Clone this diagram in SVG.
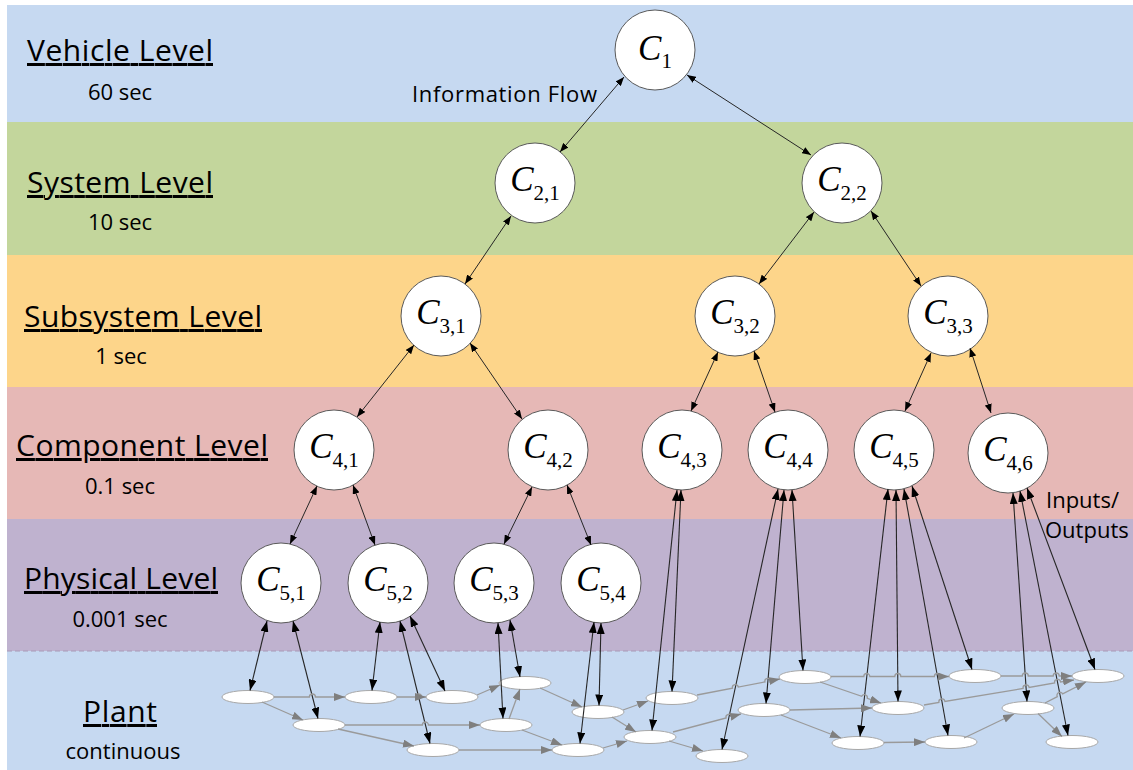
<svg xmlns="http://www.w3.org/2000/svg" width="1133" height="770" viewBox="0 0 1133 770">
<style>
.lv{font-family:"Open Sans","Liberation Sans",sans-serif;font-size:30px;fill:#000;text-decoration:underline}
.tm{font-family:"Open Sans","Liberation Sans",sans-serif;font-size:22px;fill:#000}
.nc{fill:#fff;stroke:#5a5a5a;stroke-width:1}
.lb{font-family:"Liberation Serif","Times New Roman",serif;font-size:35px;fill:#000}
.lb .i{font-style:italic}
.lb .s{font-size:21px}
.pe{fill:#fff;stroke:#a8a8a8;stroke-width:1}
.ctl{fill:none;stroke:#262626;stroke-width:1;marker-start:url(#ms);marker-end:url(#ms)}
.io{fill:none;stroke:#262626;stroke-width:1.1;marker-start:url(#mb);marker-end:url(#mb)}
.fl{fill:none;stroke:#9a9a9a;stroke-width:1.3;marker-end:url(#mg)}
</style>
<defs>
<marker id="ms" viewBox="0 0 9 7" refX="9" refY="3.5" markerWidth="9" markerHeight="7" markerUnits="userSpaceOnUse" orient="auto-start-reverse"><path d="M0,0 L9,3.5 L0,7 z" fill="#000"/></marker>
<marker id="mb" viewBox="0 0 11 8" refX="11" refY="4" markerWidth="11" markerHeight="8" markerUnits="userSpaceOnUse" orient="auto-start-reverse"><path d="M0,0 L11,4 L0,8 z" fill="#000"/></marker>
<marker id="mg" viewBox="0 0 11 8" refX="11" refY="4" markerWidth="11" markerHeight="8" markerUnits="userSpaceOnUse" orient="auto"><path d="M0,0 L11,4 L0,8 z" fill="#7f7f7f"/></marker>
</defs>
<rect x="0" y="0" width="1133" height="770" fill="#fff"/>
<g id="bands">
<rect x="7" y="5" width="1126" height="117" fill="#c6d9f1"/>
<rect x="7" y="122" width="1126" height="133" fill="#c3d69c"/>
<rect x="7" y="255" width="1126" height="132" fill="#fdd58a"/>
<rect x="7" y="387" width="1126" height="132" fill="#e6b8b6"/>
<rect x="7" y="519" width="1126" height="132" fill="#bfb2cf"/>
<rect x="7" y="651" width="1126" height="119" fill="#c6d9f1"/>
<line x1="7" y1="651" x2="1133" y2="651" stroke="#a899b6" stroke-width="1" stroke-dasharray="5,3"/>
</g>
<g id="labels">
<text class="lv" x="27" y="61" textLength="186">Vehicle Level</text>
<text class="tm" x="120" y="100" text-anchor="middle">60 sec</text>
<text class="lv" x="27" y="193" textLength="186">System Level</text>
<text class="tm" x="120" y="230" text-anchor="middle">10 sec</text>
<text class="lv" x="24" y="327" textLength="238">Subsystem Level</text>
<text class="tm" x="121" y="364" text-anchor="middle">1 sec</text>
<text class="lv" x="16" y="456" textLength="252">Component Level</text>
<text class="tm" x="120" y="494" text-anchor="middle">0.1 sec</text>
<text class="lv" x="24" y="589" textLength="194">Physical Level</text>
<text class="tm" x="120" y="627" text-anchor="middle">0.001 sec</text>
<text class="lv" x="83" y="722" textLength="74">Plant</text>
<text class="tm" x="123" y="759" text-anchor="middle">continuous</text>
<text class="tm" x="412" y="102" textLength="185">Information Flow</text>
<text class="tm" x="1046" y="508">Inputs/</text>
<text class="tm" x="1045" y="538">Outputs</text>
</g>
<g id="c1"><circle class="nc" cx="655" cy="50" r="40"/><text class="lb" x="655" y="60" text-anchor="middle"><tspan class="i">C</tspan><tspan class="s" dy="8">1</tspan></text></g>
<g id="c2_1"><circle class="nc" cx="535" cy="183" r="40"/><text class="lb" x="535" y="191" text-anchor="middle"><tspan class="i">C</tspan><tspan class="s" dy="9">2,1</tspan></text></g>
<g id="c2_2"><circle class="nc" cx="842" cy="183" r="40"/><text class="lb" x="842" y="191" text-anchor="middle"><tspan class="i">C</tspan><tspan class="s" dy="9">2,2</tspan></text></g>
<g id="c3_1"><circle class="nc" cx="441" cy="316" r="40"/><text class="lb" x="441" y="324" text-anchor="middle"><tspan class="i">C</tspan><tspan class="s" dy="9">3,1</tspan></text></g>
<g id="c3_2"><circle class="nc" cx="735" cy="316" r="40"/><text class="lb" x="735" y="324" text-anchor="middle"><tspan class="i">C</tspan><tspan class="s" dy="9">3,2</tspan></text></g>
<g id="c3_3"><circle class="nc" cx="948" cy="316" r="40"/><text class="lb" x="948" y="324" text-anchor="middle"><tspan class="i">C</tspan><tspan class="s" dy="9">3,3</tspan></text></g>
<g id="c4_1"><circle class="nc" cx="334" cy="450" r="40"/><text class="lb" x="334" y="458" text-anchor="middle"><tspan class="i">C</tspan><tspan class="s" dy="9">4,1</tspan></text></g>
<g id="c4_2"><circle class="nc" cx="548" cy="450" r="40"/><text class="lb" x="548" y="458" text-anchor="middle"><tspan class="i">C</tspan><tspan class="s" dy="9">4,2</tspan></text></g>
<g id="c4_3"><circle class="nc" cx="682" cy="450" r="40"/><text class="lb" x="682" y="458" text-anchor="middle"><tspan class="i">C</tspan><tspan class="s" dy="9">4,3</tspan></text></g>
<g id="c4_4"><circle class="nc" cx="788" cy="450" r="40"/><text class="lb" x="788" y="458" text-anchor="middle"><tspan class="i">C</tspan><tspan class="s" dy="9">4,4</tspan></text></g>
<g id="c4_5"><circle class="nc" cx="894" cy="450" r="40"/><text class="lb" x="894" y="458" text-anchor="middle"><tspan class="i">C</tspan><tspan class="s" dy="9">4,5</tspan></text></g>
<g id="c4_6"><circle class="nc" cx="1008" cy="453" r="40"/><text class="lb" x="1008" y="461" text-anchor="middle"><tspan class="i">C</tspan><tspan class="s" dy="9">4,6</tspan></text></g>
<g id="c5_1"><circle class="nc" cx="281" cy="583" r="40"/><text class="lb" x="281" y="591" text-anchor="middle"><tspan class="i">C</tspan><tspan class="s" dy="9">5,1</tspan></text></g>
<g id="c5_2"><circle class="nc" cx="388" cy="583" r="40"/><text class="lb" x="388" y="591" text-anchor="middle"><tspan class="i">C</tspan><tspan class="s" dy="9">5,2</tspan></text></g>
<g id="c5_3"><circle class="nc" cx="494" cy="583" r="40"/><text class="lb" x="494" y="591" text-anchor="middle"><tspan class="i">C</tspan><tspan class="s" dy="9">5,3</tspan></text></g>
<g id="c5_4"><circle class="nc" cx="601" cy="583" r="40"/><text class="lb" x="601" y="591" text-anchor="middle"><tspan class="i">C</tspan><tspan class="s" dy="9">5,4</tspan></text></g>
<g id="plant">
<g id="e1"><ellipse class="pe" cx="248" cy="697" rx="26" ry="6.5"/></g>
<g id="e2"><ellipse class="pe" cx="319" cy="725" rx="26" ry="6.5"/></g>
<g id="e3"><ellipse class="pe" cx="371" cy="697" rx="26" ry="6.5"/></g>
<g id="e4"><ellipse class="pe" cx="452" cy="697" rx="26" ry="6.5"/></g>
<g id="e5"><ellipse class="pe" cx="433" cy="750" rx="26" ry="6.5"/></g>
<g id="e6"><ellipse class="pe" cx="525" cy="683" rx="26" ry="6.5"/></g>
<g id="e7"><ellipse class="pe" cx="506" cy="725" rx="26" ry="6.5"/></g>
<g id="e8"><ellipse class="pe" cx="598" cy="712" rx="26" ry="6.5"/></g>
<g id="e9"><ellipse class="pe" cx="578" cy="750" rx="26" ry="6.5"/></g>
<g id="e10"><ellipse class="pe" cx="650" cy="737" rx="26" ry="6.5"/></g>
<g id="e11"><ellipse class="pe" cx="672" cy="698" rx="26" ry="6.5"/></g>
<g id="e12"><ellipse class="pe" cx="722" cy="756" rx="26" ry="6.5"/></g>
<g id="e13"><ellipse class="pe" cx="764" cy="710" rx="26" ry="6.5"/></g>
<g id="e14"><ellipse class="pe" cx="805" cy="677" rx="26" ry="6.5"/></g>
<g id="e15"><ellipse class="pe" cx="858" cy="743" rx="26" ry="6.5"/></g>
<g id="e16"><ellipse class="pe" cx="898" cy="708" rx="26" ry="6.5"/></g>
<g id="e17"><ellipse class="pe" cx="975" cy="676" rx="26" ry="6.5"/></g>
<g id="e18"><ellipse class="pe" cx="951" cy="742" rx="26" ry="6.5"/></g>
<g id="e19"><ellipse class="pe" cx="1028" cy="708" rx="26" ry="6.5"/></g>
<g id="e20"><ellipse class="pe" cx="1098" cy="676" rx="26" ry="6.5"/></g>
<g id="e21"><ellipse class="pe" cx="1072" cy="742" rx="26" ry="6.5"/></g>
</g>
<g id="connectors">
<line class="ctl" x1="624" y1="77" x2="560" y2="152"/>
<line class="ctl" x1="687" y1="75" x2="811" y2="155"/>
<line class="ctl" x1="511" y1="216" x2="465" y2="284"/>
<line class="ctl" x1="814" y1="212" x2="759" y2="284"/>
<line class="ctl" x1="871" y1="211" x2="921" y2="286"/>
<line class="ctl" x1="414" y1="345" x2="357" y2="417"/>
<line class="ctl" x1="470" y1="343" x2="522" y2="419"/>
<line class="ctl" x1="718" y1="352" x2="691" y2="411"/>
<line class="ctl" x1="754" y1="351" x2="775" y2="412"/>
<line class="ctl" x1="931" y1="353" x2="905" y2="411"/>
<line class="ctl" x1="970" y1="348" x2="991" y2="413"/>
<line class="ctl" x1="317" y1="486" x2="290" y2="544"/>
<line class="ctl" x1="353" y1="485" x2="375" y2="545"/>
<line class="ctl" x1="532" y1="487" x2="504" y2="544"/>
<line class="ctl" x1="567" y1="485" x2="591" y2="545"/>
<line class="io" x1="267" y1="621" x2="250" y2="690.5"/>
<line class="io" x1="293" y1="621" x2="318" y2="718.5"/>
<line class="io" x1="380" y1="622" x2="372" y2="690.5"/>
<line class="io" x1="400" y1="621" x2="430" y2="743.5"/>
<line class="io" x1="410" y1="616" x2="445" y2="691"/>
<line class="io" x1="498" y1="623" x2="503" y2="718.5"/>
<line class="io" x1="510" y1="620" x2="520" y2="677"/>
<line class="io" x1="594" y1="622" x2="580" y2="743.5"/>
<line class="io" x1="601" y1="623" x2="599" y2="705.5"/>
<line class="io" x1="677" y1="490" x2="652" y2="730.5"/>
<line class="io" x1="681" y1="490" x2="672" y2="691.5"/>
<line class="io" x1="778" y1="489" x2="722" y2="749.5"/>
<line class="io" x1="784" y1="490" x2="766" y2="703.5"/>
<line class="io" x1="792" y1="490" x2="803" y2="670.5"/>
<line class="io" x1="888" y1="489" x2="860" y2="736.5"/>
<line class="io" x1="896" y1="490" x2="898" y2="701.5"/>
<line class="io" x1="904" y1="489" x2="948" y2="735.5"/>
<line class="io" x1="912" y1="486" x2="972" y2="669.5"/>
<line class="io" x1="1013" y1="493" x2="1027" y2="701.5"/>
<line class="io" x1="1020" y1="491" x2="1068" y2="735.5"/>
<line class="io" x1="1027" y1="488" x2="1095" y2="669.5"/>
<path class="fl" d="M274,697 L309.4,697 A3,3 0 0 1 315.4,697 L345,697"/>
<path class="fl" d="M262,702 L303,720"/>
<path class="fl" d="M397,697 L415.5,697 A3,3 0 0 1 421.5,697 L426,697"/>
<path class="fl" d="M345,725 L422.4,725 A3,3 0 0 1 428.4,725 L480,725"/>
<path class="fl" d="M338,729 L414,746"/>
<path class="fl" d="M477,695 L500,685"/>
<path class="fl" d="M459,750 L552,750"/>
<path class="fl" d="M509,719 L520,689"/>
<path class="fl" d="M540,688 L582,707"/>
<path class="fl" d="M522,730 L562,745"/>
<path class="fl" d="M603,748 L627,741"/>
<path class="fl" d="M612,717 L636,732"/>
<path class="fl" d="M623,710 L648,701"/>
<path class="fl" d="M697,695 L732.45,688.17 A3,3 0 0 1 738.35,687.03 L764.95,681.87 A3,3 0 0 1 770.85,680.73 L780,679"/>
<path class="fl" d="M673,732 L726.1,717.97 A3,3 0 0 1 731.9,716.43 L741,714"/>
<path class="fl" d="M669,741 L703,751"/>
<path class="fl" d="M820,682 L861.7,696.3 A3,3 0 0 1 867.3,698.3 L881,703"/>
<path class="fl" d="M831,676.5 L863.8,676.5 A3,3 0 0 1 869.8,676.5 L894.8,676.5 A3,3 0 0 1 900.8,676.5 L934.4,676.5 A3,3 0 0 1 940.4,676.5 L949,676.5"/>
<path class="fl" d="M790,710 L872,708"/>
<path class="fl" d="M781,715 L841,738"/>
<path class="fl" d="M884,742.5 L925,742"/>
<path class="fl" d="M924,705 L938.9,702.5 A3,3 0 0 1 944.9,701.5 L1023.1,688.5 A3,3 0 0 1 1029.1,687.5 L1054.6,682.9 A3,3 0 0 1 1060.6,681.9 L1074,680"/>
<path class="fl" d="M1001,676 L1022.3,676 A3,3 0 0 1 1028.3,676 L1053.2,676 A3,3 0 0 1 1059.2,676 L1072,676"/>
<path class="fl" d="M1045,703 L1057.3,696.7 A3,3 0 0 1 1062.7,693.9 L1086,682"/>
<path class="fl" d="M964,738 L1014,714"/>
<path class="fl" d="M1038,713.5 L1062,736.5"/>
</g>
</svg>
